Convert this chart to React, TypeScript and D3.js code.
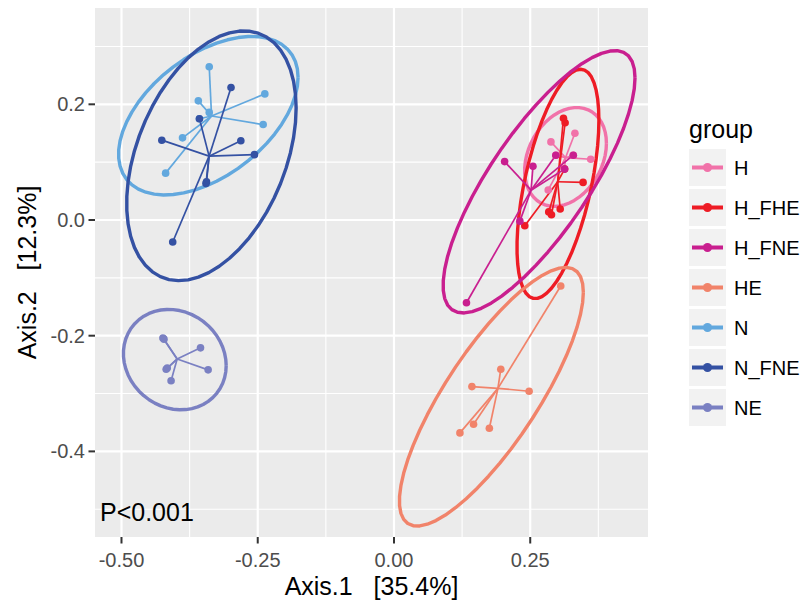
import { useEffect, useRef } from 'react';
import * as d3 from 'd3';

// groups and their colours (legend order)
const groups = ['H', 'H_FHE', 'H_FNE', 'HE', 'N', 'N_FNE', 'NE'];
const groupColors = ['#F172A9', '#EE1C25', '#C91F8F', '#F1836A', '#62A8DE', '#3451A3', '#7A80C2'];

// ordination scores, one entry per sample (some samples sit under others)
const sampleGroup = [
  'H', 'H', 'H', 'H', 'H', 'H', 'H',
  'H_FHE', 'H_FHE', 'H_FHE', 'H_FHE', 'H_FHE', 'H_FHE', 'H_FHE', 'H_FHE',
  'H_FNE', 'H_FNE', 'H_FNE', 'H_FNE', 'H_FNE', 'H_FNE', 'H_FNE',
  'HE', 'HE', 'HE', 'HE', 'HE', 'HE', 'HE',
  'N', 'N', 'N', 'N', 'N', 'N', 'N', 'N',
  'N_FNE', 'N_FNE', 'N_FNE', 'N_FNE', 'N_FNE', 'N_FNE', 'N_FNE', 'N_FNE',
  'NE', 'NE', 'NE', 'NE', 'NE', 'NE', 'NE',
];
const axis1 = [
  0.332, 0.288, 0.361, 0.283, 0.297, 0.329, 0.313,
  0.311, 0.314, 0.347, 0.305, 0.289, 0.284, 0.240, 0.313,
  0.203, 0.255, 0.297, 0.329, 0.313, 0.231, 0.133,
  0.306, 0.196, 0.143, 0.248, 0.146, 0.121, 0.175,
  -0.339, -0.359, -0.237, -0.240, -0.388, -0.419, -0.339, -0.357,
  -0.299, -0.357, -0.426, -0.281, -0.256, -0.345, -0.406, -0.344,
  -0.424, -0.355, -0.418, -0.341, -0.409, -0.422, -0.416,
];
const axis2 = [
  0.150, 0.135, 0.105, 0.052, 0.112, 0.112, 0.088,
  0.176, 0.168, 0.065, 0.019, 0.009, 0.014, -0.010, 0.088,
  0.101, 0.093, 0.112, 0.112, 0.088, -0.002, -0.143,
  -0.114, -0.258, -0.288, -0.296, -0.353, -0.368, -0.360,
  0.265, 0.206, 0.218, 0.165, 0.142, 0.081, 0.186, 0.175,
  0.229, 0.175, 0.138, 0.137, 0.113, 0.063, -0.038, 0.066,
  -0.204, -0.221, -0.258, -0.259, -0.278, -0.206, -0.256,
];

const xTicks = [-0.5, -0.25, 0, 0.25];
const yTicks = [-0.4, -0.2, 0, 0.2];
const xMinor = [-0.375, -0.125, 0.125, 0.375];
const yMinor = [-0.5, -0.3, -0.1, 0.1, 0.3];
const xDomain = [-0.5486, 0.4661];
const yDomain = [-0.548, 0.3665];

const FONT = '"Liberation Sans", Arial, sans-serif';

// robust t covariance like MASS::cov.trob (used by stat_ellipse type = "t")
function covTrob(pts: number[][], nu = 5, maxit = 25, tol = 0.01) {
  const n = pts.length;
  const p = 2;
  let loc = [d3.mean(pts, d => d[0]) as number, d3.mean(pts, d => d[1]) as number];
  let w = pts.map(() => 1);
  let X = pts.map(d => [d[0] - loc[0], d[1] - loc[1]]);
  for (let iter = 0; iter < maxit; iter++) {
    const w0 = w;
    X = pts.map(d => [d[0] - loc[0], d[1] - loc[1]]);
    const sw = d3.sum(w);
    let sxx = 0, sxy = 0, syy = 0;
    X.forEach((d, i) => {
      sxx += w[i] * d[0] * d[0];
      sxy += w[i] * d[0] * d[1];
      syy += w[i] * d[1] * d[1];
    });
    sxx /= sw; sxy /= sw; syy /= sw;
    const det = sxx * syy - sxy * sxy;
    const Q = X.map(d => (syy * d[0] * d[0] - 2 * sxy * d[0] * d[1] + sxx * d[1] * d[1]) / det);
    w = Q.map(q => (nu + p) / (nu + q));
    const sw2 = d3.sum(w);
    loc = [d3.sum(pts, (d, i) => w[i] * d[0]) / sw2, d3.sum(pts, (d, i) => w[i] * d[1]) / sw2];
    if (w.every((v, i) => Math.abs(v - w0[i]) < tol)) break;
  }
  let cxx = 0, cxy = 0, cyy = 0;
  X.forEach((d, i) => {
    cxx += w[i] * d[0] * d[0];
    cxy += w[i] * d[0] * d[1];
    cyy += w[i] * d[1] * d[1];
  });
  return { loc, cov: [cxx / n, cxy / n, cyy / n] };
}

function ellipsePoints(pts: number[][], level = 0.95, segments = 51) {
  const { loc, cov } = covTrob(pts);
  const dfd = pts.length - 1;
  // qf(level, 2, dfd) has a closed form for 2 numerator df
  const fq = (dfd / 2) * (Math.pow(1 - level, -2 / dfd) - 1);
  const radius = Math.sqrt(2 * fq);
  const a = Math.sqrt(cov[0]);
  const b = cov[1] / a;
  const c = Math.sqrt(cov[2] - b * b);
  return d3.range(segments + 1).map(i => {
    const t = (i * 2 * Math.PI) / segments;
    return [loc[0] + radius * Math.cos(t) * a, loc[1] + radius * (Math.cos(t) * b + Math.sin(t) * c)];
  });
}

export default function App() {
  const svgRef = useRef<SVGSVGElement>(null);

  useEffect(() => {
    if (!svgRef.current) return;
    const svg = d3.select(svgRef.current);
    svg.selectAll('*').remove();

    const panel = { left: 95, right: 648, top: 8, bottom: 537 };
    const x = d3.scaleLinear().domain(xDomain).range([panel.left, panel.right]);
    const y = d3.scaleLinear().domain(yDomain).range([panel.bottom, panel.top]);

    // panel background + grid
    svg.append('rect')
      .attr('x', panel.left).attr('y', panel.top)
      .attr('width', panel.right - panel.left).attr('height', panel.bottom - panel.top)
      .attr('fill', '#EBEBEB');

    const grid = svg.append('g').attr('stroke', '#fff');
    xMinor.forEach(v => grid.append('line')
      .attr('x1', x(v)).attr('x2', x(v)).attr('y1', panel.top).attr('y2', panel.bottom)
      .attr('stroke-width', 1.1));
    yMinor.forEach(v => grid.append('line')
      .attr('y1', y(v)).attr('y2', y(v)).attr('x1', panel.left).attr('x2', panel.right)
      .attr('stroke-width', 1.1));
    xTicks.forEach(v => grid.append('line')
      .attr('x1', x(v)).attr('x2', x(v)).attr('y1', panel.top).attr('y2', panel.bottom)
      .attr('stroke-width', 2.2));
    yTicks.forEach(v => grid.append('line')
      .attr('y1', y(v)).attr('y2', y(v)).attr('x1', panel.left).attr('x2', panel.right)
      .attr('stroke-width', 2.2));

    const data = sampleGroup.map((g, i) => ({ group: g, a1: axis1[i], a2: axis2[i] }));
    const color = d3.scaleOrdinal<string, string>().domain(groups).range(groupColors);

    const line = d3.line<number[]>().x(d => x(d[0])).y(d => y(d[1]));

    // ellipses
    groups.forEach(g => {
      const pts = data.filter(d => d.group === g).map(d => [d.a1, d.a2]);
      svg.append('path')
        .attr('d', line(ellipsePoints(pts)))
        .attr('fill', 'none')
        .attr('stroke', color(g))
        .attr('stroke-width', 3.4)
        .attr('stroke-linejoin', 'round');
    });

    // spider segments from group centroid
    groups.forEach(g => {
      const pts = data.filter(d => d.group === g);
      const cx = d3.mean(pts, d => d.a1) as number;
      const cy = d3.mean(pts, d => d.a2) as number;
      svg.append('g').selectAll('line')
        .data(pts)
        .enter().append('line')
        .attr('x1', x(cx)).attr('y1', y(cy))
        .attr('x2', d => x(d.a1)).attr('y2', d => y(d.a2))
        .attr('stroke', color(g))
        .attr('stroke-width', 1.7);
    });

    // points
    svg.append('g').selectAll('circle')
      .data(data)
      .enter().append('circle')
      .attr('cx', d => x(d.a1))
      .attr('cy', d => y(d.a2))
      .attr('r', 3.8)
      .attr('fill', d => color(d.group));

    // axes
    const fmt2 = (v: number) => v.toFixed(2);
    const fmt1 = (v: number) => v.toFixed(1);
    const ax = svg.append('g');
    xTicks.forEach(v => {
      ax.append('line')
        .attr('x1', x(v)).attr('x2', x(v)).attr('y1', panel.bottom).attr('y2', panel.bottom + 6.5)
        .attr('stroke', '#333').attr('stroke-width', 2);
      ax.append('text')
        .attr('x', x(v)).attr('y', 567)
        .attr('text-anchor', 'middle')
        .style('font-family', FONT).style('font-size', '20px').style('fill', '#4D4D4D')
        .text(fmt2(v));
    });
    yTicks.forEach(v => {
      ax.append('line')
        .attr('x1', panel.left - 6.5).attr('x2', panel.left).attr('y1', y(v)).attr('y2', y(v))
        .attr('stroke', '#333').attr('stroke-width', 2);
      ax.append('text')
        .attr('x', 85).attr('y', y(v) + 7)
        .attr('text-anchor', 'end')
        .style('font-family', FONT).style('font-size', '20px').style('fill', '#4D4D4D')
        .text(fmt1(v));
    });

    // axis titles
    svg.append('text')
      .attr('x', (panel.left + panel.right) / 2).attr('y', 595)
      .attr('text-anchor', 'middle')
      .style('font-family', FONT).style('font-size', '25px').style('fill', '#000')
      .style('white-space', 'pre')
      .text('Axis.1   [35.4%]');
    svg.append('text')
      .attr('transform', `translate(36,${(panel.top + panel.bottom) / 2}) rotate(-90)`)
      .attr('text-anchor', 'middle')
      .style('font-family', FONT).style('font-size', '25px').style('fill', '#000')
      .style('white-space', 'pre')
      .text('Axis.2   [12.3%]');

    // annotation
    svg.append('text')
      .attr('x', 100).attr('y', 521)
      .style('font-family', FONT).style('font-size', '25px').style('fill', '#000')
      .text('P<0.001');

    // legend
    const lg = svg.append('g');
    lg.append('text')
      .attr('x', 689).attr('y', 138)
      .style('font-family', FONT).style('font-size', '25px').style('fill', '#000')
      .text('group');
    groups.forEach((g, i) => {
      const top = 149 + i * 40;
      lg.append('rect')
        .attr('x', 689).attr('y', top).attr('width', 37).attr('height', 37)
        .attr('fill', '#F2F2F2');
      lg.append('line')
        .attr('x1', 692).attr('x2', 723).attr('y1', top + 18.5).attr('y2', top + 18.5)
        .attr('stroke', color(g)).attr('stroke-width', 4);
      lg.append('circle')
        .attr('cx', 707.5).attr('cy', top + 18.5).attr('r', 4.5)
        .attr('fill', color(g));
      lg.append('text')
        .attr('x', 734).attr('y', top + 25.5)
        .style('font-family', FONT).style('font-size', '20px').style('fill', '#000')
        .text(g);
    });
  }, []);

  return (
    <svg
      ref={svgRef}
      width={803}
      height={602}
      style={{ position: 'absolute', left: 0, top: 0, background: '#fff' }}
    />
  );
}
